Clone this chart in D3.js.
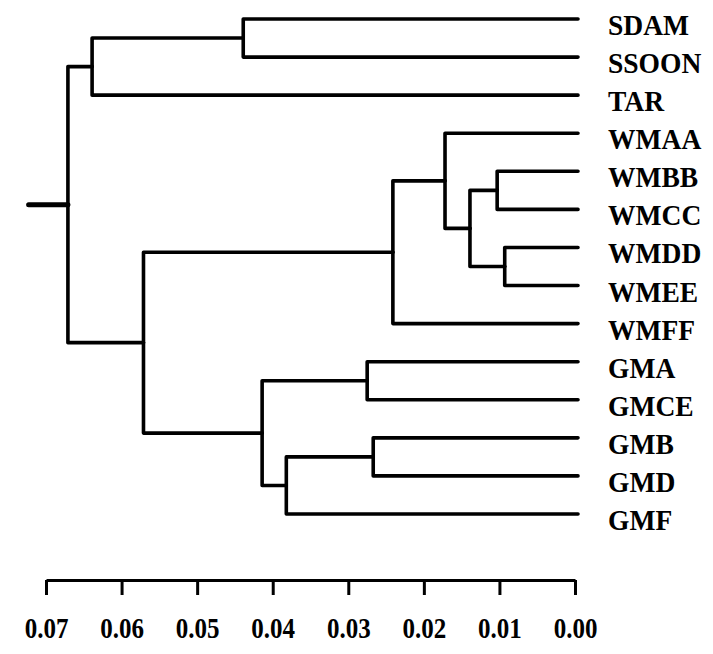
<!DOCTYPE html>
<html>
<head>
<meta charset="utf-8">
<script src="https://cdn.jsdelivr.net/npm/d3@7"></script>
<style>
  body { margin: 0; background: #fff; }
  svg text { font-family: "Liberation Serif", "DejaVu Serif", serif; font-weight: bold; fill: #000; }
</style>
</head>
<body>
<svg width="713" height="654"></svg>
<script>
// leaves top to bottom
var leaves = ["SDAM", "SSOON", "TAR", "WMAA", "WMBB", "WMCC", "WMDD", "WMEE", "WMFF",
              "GMA", "GMCE", "GMB", "GMD", "GMF"];

// merges in order, n1..n13 are the new clusters
var mergeLeft   = ["WMDD", "WMBB", "n2", "WMAA", "n4", "GMB", "GMA", "n6", "n7", "SDAM", "n5", "n10", "n12"];
var mergeRight  = ["WMEE", "WMCC", "n1", "n3", "WMFF", "GMD", "GMCE", "GMF", "n8", "SSOON", "n9", "TAR", "n11"];
var mergeHeight = [0.0093, 0.0103, 0.0139, 0.0172, 0.0241, 0.0267, 0.0275, 0.0382, 0.0414, 0.0439, 0.0571, 0.0639, 0.0671];

var tickValues = [0.07, 0.06, 0.05, 0.04, 0.03, 0.02, 0.01, 0.00];

var svg = d3.select("svg");

var x = d3.scaleLinear().domain([0.07, 0]).range([46, 575]);
var y = d3.scalePoint().domain(leaves).range([19, 514]);

// build the tree
var byName = {};
leaves.forEach(function (d) { byName[d] = {name: d, height: 0}; });
var tree;
for (var i = 0; i < mergeLeft.length; i++) {
  tree = {name: "n" + (i + 1), height: mergeHeight[i], children: [byName[mergeLeft[i]], byName[mergeRight[i]]]};
  byName[tree.name] = tree;
}
var root = d3.hierarchy(tree);

// position: leaves on their row, clusters halfway between the children
root.eachAfter(function (d) {
  d.px = x(d.data.height);
  if (!d.children) d.py = y(d.data.name);
  else d.py = (d.children[0].py + d.children[1].py) / 2;
});

var g = svg.append("g")
  .attr("fill", "none")
  .attr("stroke", "#000")
  .attr("stroke-width", 3.6)
  .attr("stroke-linecap", "round")
  .attr("stroke-linejoin", "round");

g.selectAll("path.link")
  .data(root.links())
  .enter().append("path")
  .attr("class", "link")
  .attr("d", function (d) {
    return "M" + d.source.px + "," + d.source.py +
           "V" + d.target.py + "H" + (d.target.children ? d.target.px : d.target.px + 3);
  });

// root stub
g.append("path")
  .attr("stroke-width", 5)
  .attr("d", "M" + x(tree.height + 0.0052) + "," + root.py + "H" + root.px);

// leaf labels, a bit taller like the scanned type
svg.append("g").selectAll("text")
  .data(root.leaves())
  .enter().append("text")
  .attr("transform", function (d) { return "translate(608," + (d.py + 16) + ") scale(1.02,1.12)"; })
  .style("font-size", "27px")
  .text(function (d) { return d.data.name; });

// axis
var axis = svg.append("g")
  .attr("transform", "translate(0,580)")
  .call(d3.axisBottom(x)
    .tickValues(tickValues)
    .tickFormat(d3.format(".2f"))
    .tickSizeInner(15)
    .tickSizeOuter(0));

axis.select(".domain").attr("stroke", "#000").attr("stroke-width", 3);
axis.selectAll(".tick line").attr("stroke", "#000").attr("stroke-width", 3);
axis.selectAll(".tick text")
  .style("font-size", "25px")
  .attr("font-family", null)
  .attr("y", 0)
  .attr("dy", null)
  .attr("transform", "translate(0,58) scale(1,1.15)");
</script>
</body>
</html>
